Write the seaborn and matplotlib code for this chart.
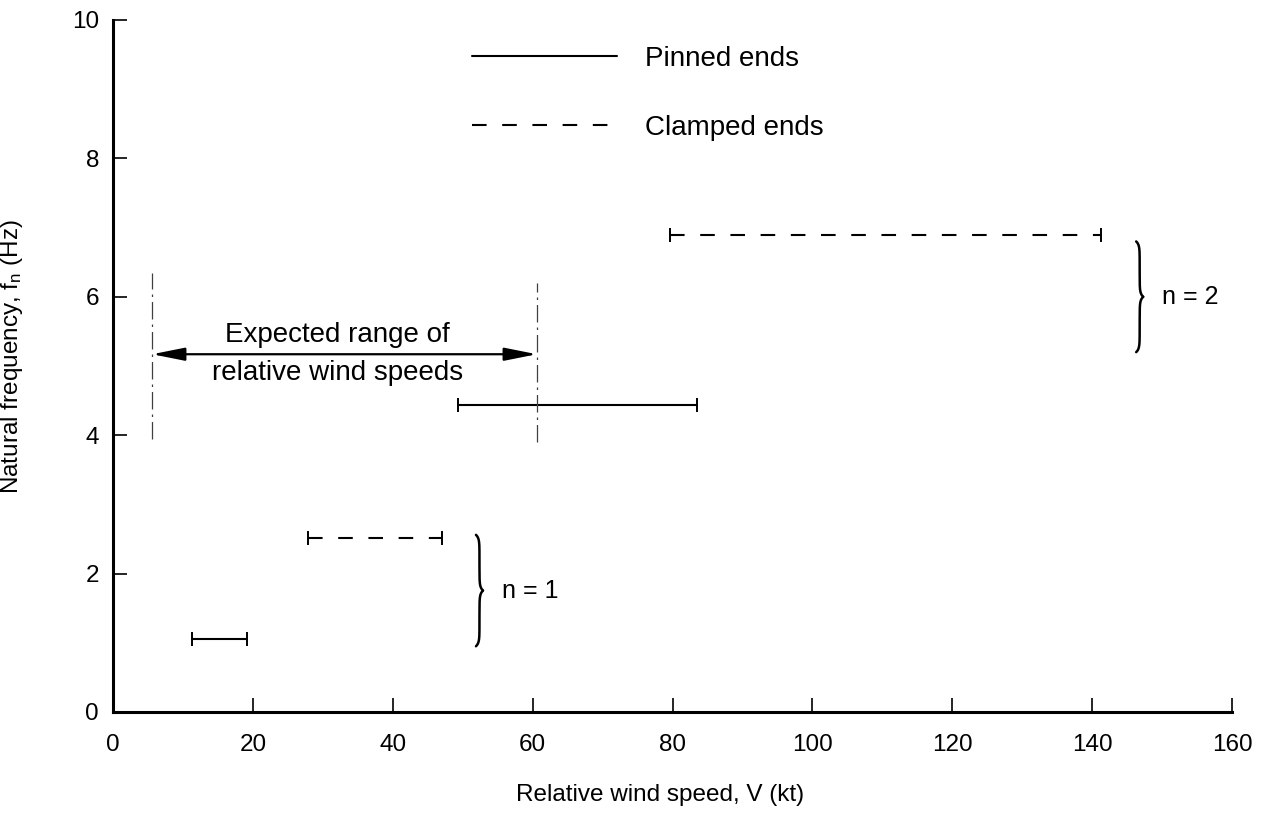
import numpy as np
import pandas as pd
import matplotlib
matplotlib.use('Agg')
import matplotlib.pyplot as plt
import seaborn as sns

# interval data: wind speed range giving vortex shedding lock-in, per mode/end condition
mode = ['n = 1', 'n = 1', 'n = 2', 'n = 2']
ends = ['Pinned ends', 'Clamped ends', 'Pinned ends', 'Clamped ends']
v_low = [11.3, 27.9, 49.4, 79.6]
v_high = [19.2, 47.0, 83.5, 141.2]
freq = [1.05, 2.52, 4.44, 6.9]

# expected range of relative wind speeds
range_low = 5.6
range_high = 60.6
range_arrow_f = 5.17
range_line_bottom = [3.95, 3.9]
range_line_top = [6.35, 6.2]

# brace spans for each mode (x, f_bottom, f_top)
brace_x = [52.4, 146.8]
brace_f_bottom = [0.95, 5.2]
brace_f_top = [2.56, 6.8]

x_ticks = [0, 20, 40, 60, 80, 100, 120, 140, 160]
y_ticks = [0, 2, 4, 6, 8, 10]

sns.set_theme(style='ticks')
plt.rcParams['font.family'] = ['Liberation Sans', 'DejaVu Sans']
plt.rcParams['mathtext.default'] = 'regular'
plt.rcParams['text.color'] = 'black'
plt.rcParams['axes.labelcolor'] = 'black'

rows = []
for i in range(len(mode)):
    for v in (v_low[i], v_high[i]):
        rows.append({'interval': i, 'V': v, 'f': freq[i], 'ends': ends[i], 'mode': mode[i]})
df = pd.DataFrame(rows)

fig = plt.figure(figsize=(12.65, 8.35), dpi=100)
ax = fig.add_axes([113 / 1265, 1 - 712 / 835, 1119 / 1265, 692 / 835])

sns.lineplot(data=df, x='V', y='f', units='interval', estimator=None, sort=False,
             style='ends', style_order=['Pinned ends', 'Clamped ends'],
             dashes={'Pinned ends': '', 'Clamped ends': (7, 7.5)},
             color='black', linewidth=1.5, ax=ax)
sns.scatterplot(data=df, x='V', y='f', marker='|', s=110, color='black',
                linewidth=1.4, legend=False, ax=ax)

# expected range markers
for xv, yb, yt in zip([range_low, range_high], range_line_bottom, range_line_top):
    ax.plot([xv, xv], [yb, yt], color='0.25', lw=0.9, ls=(0, (14, 4, 2, 4)))
ax.annotate('', xy=(range_low, range_arrow_f), xytext=(range_high, range_arrow_f),
            arrowprops=dict(arrowstyle='<|-|>,head_length=1.1,head_width=0.22',
                            mutation_scale=18, color='black', lw=1.6,
                            shrinkA=0, shrinkB=0))
mid = (range_low + range_high) / 2
ax.text(mid - 1.0, range_arrow_f + 0.28, 'Expected range of', ha='center', va='center',
        fontsize=20)
ax.text(mid - 1.0, range_arrow_f - 0.27, 'relative wind speeds', ha='center', va='center',
        fontsize=20)


def draw_brace(ax, x, y0, y1, w=0.5):
    # curly brace opening to the left, cusp pointing right
    ym = (y0 + y1) / 2
    u = np.linspace(0, 1, 200)
    shape = -np.exp(-u / 0.06) + np.exp(-(1 - u) / 0.06)
    ys_top = y1 - u * (y1 - ym)
    ys_bot = y0 + u * (ym - y0)
    ax.plot(x + w * shape, ys_top, color='black', lw=1.8)
    ax.plot(x + w * shape, ys_bot, color='black', lw=1.8)


for bx, yb, yt, label in zip(brace_x, brace_f_bottom, brace_f_top, ['n = 1', 'n = 2']):
    draw_brace(ax, bx, yb, yt)
    ax.text(bx + 3.2, (yb + yt) / 2, label, ha='left', va='center', fontsize=18)

# legend drawn as in the original figure: line samples with labels, no frame
handles, labels = ax.get_legend_handles_labels()
keep = [(h, l) for h, l in zip(handles, labels) if l in ends]
ax.legend([k[0] for k in keep], [k[1] for k in keep], loc='upper left',
          bbox_to_anchor=(51.4, 9.63), bbox_transform=ax.transData,
          frameon=False, fontsize=20, handlelength=5.2, handletextpad=1.0,
          labelspacing=1.57, borderpad=0, borderaxespad=0)

ax.set_xlim(0, 160)
ax.set_ylim(0, 10)
ax.set_xticks(x_ticks)
ax.set_yticks(y_ticks)
ax.tick_params(axis='both', direction='in', length=10, width=1.2, labelsize=17.5,
               color='black', labelcolor='black')
ax.tick_params(axis='x', pad=16)
ax.tick_params(axis='y', pad=10)
for side in ['top', 'right']:
    ax.spines[side].set_visible(False)
for side in ['left', 'bottom']:
    ax.spines[side].set_linewidth(2.2)
    ax.spines[side].set_color('black')

ax.set_xlabel('Relative wind speed, V (kt)', fontsize=17.5)
ax.set_ylabel('Natural frequency, $f_n$ (Hz)', fontsize=17.5)
ax.xaxis.set_label_coords((660 - 113) / 1119, -0.104)
ax.yaxis.set_label_coords((25 - 113) / 1119, 0.514)

fig.savefig('out.png', dpi=100, facecolor='white')
